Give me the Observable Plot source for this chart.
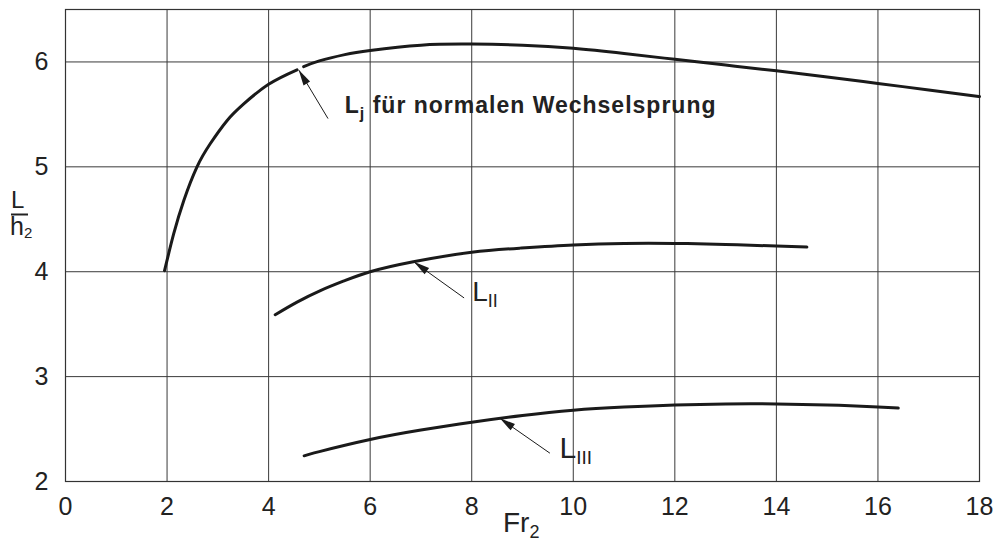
<!DOCTYPE html>
<html>
<head>
<meta charset="utf-8">
<script src="https://cdn.jsdelivr.net/npm/d3@7"></script>
<script src="https://cdn.jsdelivr.net/npm/@observablehq/plot@0.6"></script>
<style>
  html, body { margin: 0; padding: 0; background: #fff; }
  #chart svg { display: block; }
</style>
</head>
<body>
<div id="chart"></div>
<script>
// ---- data ----
const xTicks = [0, 2, 4, 6, 8, 10, 12, 14, 16, 18];
const yTicks = [2, 3, 4, 5, 6];

// L_j für normalen Wechselsprung (null = gap at arrow)
const ljX = [1.95, 2.13, 2.33, 2.59, 2.85, 3.18, 3.51, 4.0, 4.56, 4.62, 4.69, 5.0, 5.5, 6, 7, 8, 9, 10, 11, 12, 13, 14, 15, 16, 17, 18];
const ljY = [4.01, 4.36, 4.68, 5.0, 5.22, 5.44, 5.60, 5.787, 5.925, null, 5.955, 6.01, 6.07, 6.11, 6.16, 6.17, 6.16, 6.13, 6.08, 6.025, 5.97, 5.915, 5.857, 5.795, 5.733, 5.67];

// L_II
const l2X = [4.13, 4.56, 5.02, 5.5, 6.0, 6.85, 8.0, 8.95, 10, 11, 12, 13, 14, 14.6];
const l2Y = [3.59, 3.71, 3.82, 3.915, 4.0, 4.095, 4.185, 4.225, 4.255, 4.27, 4.27, 4.26, 4.245, 4.235];

// L_III
const l3X = [4.7, 5, 6, 7, 8, 9, 10, 11, 12, 13, 14, 15, 16, 16.4];
const l3Y = [2.245, 2.285, 2.40, 2.49, 2.565, 2.63, 2.68, 2.71, 2.73, 2.74, 2.74, 2.73, 2.71, 2.70];

// annotation arrows: [tailX, tailY, tipX, tipY]
const arrowLj = [5.17, 5.46, 4.6, 5.92];
const arrowL2 = [7.85, 3.75, 6.87, 4.09];
const arrowL3 = [9.54, 2.27, 8.56, 2.60];

// label anchors (left, baseline)
const labelLj = {x: 5.51, y: 5.51, main: "L", sub: "j", rest: " für normalen Wechselsprung"};
const labelL2 = {x: 8.02, y: 3.72, main: "L", sub: "II"};
const labelL3 = {x: 9.74, y: 2.22, main: "L", sub: "III"};

const toRows = (xs, ys) => xs.map((x, i) => ({x, y: ys[i]}));
const lj = toRows(ljX, ljY);
const l2 = toRows(l2X, l2Y);
const l3 = toRows(l3X, l3Y);
const arrows = [arrowLj, arrowL2, arrowL3].map(([x1, y1, x2, y2]) => ({x1, y1, x2, y2}));

const font = "'Liberation Sans', Arial, Helvetica, sans-serif";
const ink = "#1a1a1a";

const chart = Plot.plot({
  width: 994,
  height: 542,
  marginLeft: 65,
  marginRight: 15,
  marginTop: 9,
  marginBottom: 61,
  x: {domain: [0, 18]},
  y: {domain: [2, 6.5]},
  style: {fontFamily: font, background: "#fff", color: "#222"},
  marks: [
    Plot.gridX(xTicks, {stroke: "#3a3a3a", strokeOpacity: 1, strokeWidth: 1}),
    Plot.gridY(yTicks, {stroke: "#3a3a3a", strokeOpacity: 1, strokeWidth: 1}),
    Plot.frame({stroke: "#333", strokeWidth: 1.2}),
    Plot.axisX(xTicks, {tickSize: 0, tickPadding: 16, fontSize: 25, label: null, color: "#222", tickFormat: d => String(d)}),
    Plot.axisY(yTicks, {tickSize: 0, tickPadding: 17, fontSize: 25, label: null, color: "#222", tickFormat: d => String(d)}),
    Plot.line(lj, {x: "x", y: "y", curve: "natural", stroke: ink, strokeWidth: 3}),
    Plot.line(l2, {x: "x", y: "y", curve: "natural", stroke: ink, strokeWidth: 3}),
    Plot.line(l3, {x: "x", y: "y", curve: "natural", stroke: ink, strokeWidth: 3}),
    Plot.link(arrows, {x1: "x1", y1: "y1", x2: "x2", y2: "y2", stroke: ink, strokeWidth: 1})
  ]
});

document.getElementById("chart").appendChild(chart);

// ---- decorations placed through the chart's scales ----
const sx = chart.scale("x"), sy = chart.scale("y");
const svg = d3.select(chart);
const g = svg.append("g").attr("font-family", font).attr("fill", "#222").attr("text-anchor", "start");

// filled arrowheads
arrows.forEach(a => {
  const x1 = sx.apply(a.x1), y1 = sy.apply(a.y1), x2 = sx.apply(a.x2), y2 = sy.apply(a.y2);
  const ang = Math.atan2(y2 - y1, x2 - x1);
  const L = 16, W = 3.8;
  const bx = x2 - L * Math.cos(ang), by = y2 - L * Math.sin(ang);
  const px = -Math.sin(ang) * W, py = Math.cos(ang) * W;
  g.append("path")
    .attr("d", `M${x2},${y2}L${bx + px},${by + py}L${bx - px},${by - py}Z`)
    .attr("fill", ink);
});

function subLabel(lab, size, subSize, subDy, weight) {
  const t = g.append("text")
    .attr("x", sx.apply(lab.x)).attr("y", sy.apply(lab.y))
    .attr("font-size", size).attr("font-weight", weight || "normal");
  t.append("tspan").text(lab.main);
  t.append("tspan").attr("font-size", subSize).attr("dy", subDy).text(lab.sub);
  if (lab.rest) t.append("tspan").attr("dy", -subDy).text(lab.rest);
  return t;
}
subLabel(labelLj, 23, 16, 6, "bold").attr("letter-spacing", 1.0);
subLabel(labelL2, 28, 18, 6);
subLabel(labelL3, 30, 19, 6);

// x axis title: Fr2
const fr = g.append("text").attr("x", 503).attr("y", 532).attr("font-size", 28);
fr.append("tspan").text("Fr");
fr.append("tspan").attr("font-size", 18).attr("dy", 6).text("2");

// y axis title: L / h2
g.append("text").attr("x", 11).attr("y", 208).attr("font-size", 24).text("L");
g.append("line").attr("x1", 11).attr("x2", 28).attr("y1", 214.5).attr("y2", 214.5)
  .attr("stroke", "#222").attr("stroke-width", 2);
const h2 = g.append("text").attr("x", 10).attr("y", 235).attr("font-size", 25);
h2.append("tspan").text("h");
h2.append("tspan").attr("font-size", 15).attr("dy", 3).text("2");
</script>
</body>
</html>
